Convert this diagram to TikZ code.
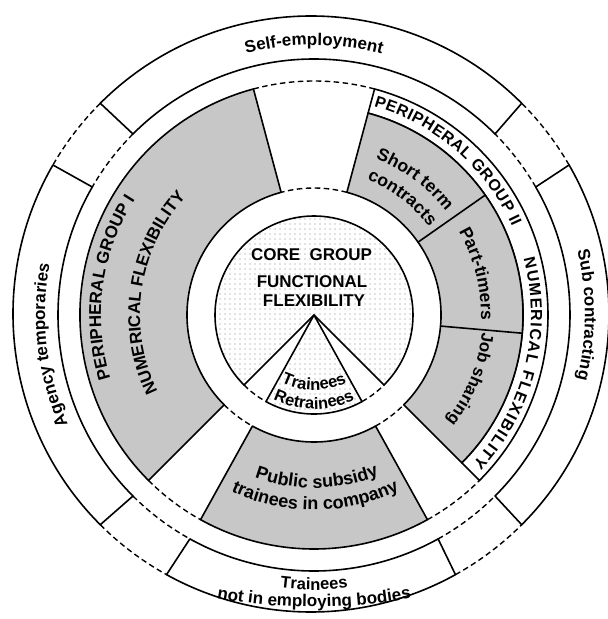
\documentclass[tikz,border=0pt]{standalone}
\usepackage{fontspec}
\setmainfont{Liberation Sans}
\usetikzlibrary{decorations.text,patterns.meta}
\definecolor{pgray}{RGB}{199,199,199}
\definecolor{dotc}{RGB}{130,130,130}
\newcommand{\fo}{\fontsize{17pt}{17pt}\selectfont\bfseries}
\newcommand{\fb}{\fontsize{16pt}{16pt}\selectfont\bfseries}
\newcommand{\fc}{\fontsize{17.5pt}{17.5pt}\selectfont\bfseries}
\newcommand{\fd}{\fontsize{18pt}{18pt}\selectfont\bfseries}
\newcommand{\fe}{\fontsize{16.5pt}{16.5pt}\selectfont\bfseries}
\newcommand{\ringsec}[5]{\path[#1] (#2:#4pt) arc[start angle=#2,end angle=#3,radius=#4pt] -- (#3:#5pt) arc[start angle=#3,end angle=#2,radius=#5pt] -- cycle;}
\newcommand{\cwtext}[4]{\path[decorate,decoration={text along path,text align=center,text={#4}}] ({#1+#3}:#2pt) arc[start angle={#1+#3},end angle={#1-#3},radius=#2pt];}
\newcommand{\ccwtext}[4]{\path[decorate,decoration={text along path,text align=center,text={#4}}] ({#1-#3}:#2pt) arc[start angle={#1-#3},end angle={#1+#3},radius=#2pt];}
\newcommand{\fittext}[4]{\path[decorate,decoration={text along path,text align={fit to path},text={#4}}] (#1:#3pt) arc[start angle=#1,end angle=#2,radius=#3pt];}
\begin{document}
\begin{tikzpicture}[
  sline/.style={draw=black,line width=1.6pt,line join=round,line cap=round},
  dline/.style={draw=black,line width=1.4pt,dash pattern=on 5.5pt off 3.5pt},
  grayreg/.style={fill=pgray,draw=black,line width=1.6pt,line join=round},
  corelabel/.style={font=\fontsize{17pt}{17pt}\selectfont\bfseries,inner sep=0pt}
]
\fill[white] (-314pt,-304pt) rectangle (294pt,315pt);
\useasboundingbox (-314pt,-304pt) rectangle (294pt,315pt);

% ---------- outer ring (outer circle slightly off-centre, as in the print)
\foreach \a/\b in {45/135,150/225,241/299,-45/30}{
  \draw[sline] ([shift={(-3pt,1pt)}]\a:298pt) arc[start angle=\a,end angle=\b,radius=298pt]
        -- (\b:256pt) arc[start angle=\b,end angle=\a,radius=256pt] -- cycle;
}
\foreach \a/\b in {135/150,225/241,299/315,30/45}{
  \draw[dline] ([shift={(-3pt,1pt)}]\a:298pt) arc[start angle=\a,end angle=\b,radius=298pt];
  \draw[dline] (\a:256pt) arc[start angle=\a,end angle=\b,radius=256pt];
}

% ---------- middle zone
\ringsec{grayreg}{105}{225}{234}{127}
\ringsec{grayreg}{241}{299}{234}{127}
\ringsec{sline}{-45}{75}{234}{209}
\ringsec{grayreg}{-45}{75}{209}{127}
\draw[sline] (35:127pt) -- (35:209pt);
\draw[sline] (-5:127pt) -- (-5:209pt);
\foreach \a/\b in {75/105,225/241,299/315}{
  \draw[dline] (\a:234pt) arc[start angle=\a,end angle=\b,radius=234pt];
  \draw[dline] (\a:127pt) arc[start angle=\a,end angle=\b,radius=127pt];
}

% ---------- core
\fill[pattern={Dots[distance=5pt,radius=0.65pt]},pattern color=dotc] (0,0) circle[radius=99pt];
\fill[white] (0,0) -- (225:99pt) arc[start angle=225,end angle=241,radius=99pt] -- cycle;
\fill[white] (0,0) -- (299:99pt) arc[start angle=299,end angle=315,radius=99pt] -- cycle;
\draw[sline] (-45:99pt) arc[start angle=-45,end angle=225,radius=99pt];
\draw[sline] (241:99pt) arc[start angle=241,end angle=299,radius=99pt];
\draw[dline] (225:99pt) arc[start angle=225,end angle=241,radius=99pt];
\draw[dline] (299:99pt) arc[start angle=299,end angle=315,radius=99pt];
\draw[sline] (225:99pt) -- (0,0) -- (315:99pt);
\draw[sline] (241:99pt) -- (0,0) -- (299:99pt);

\node[corelabel] (core) at (-2.5pt,60pt) {CORE\hspace{0.55em}GROUP};
\node[corelabel] (func) at (-2pt,33pt) {FUNCTIONAL};
\node[corelabel] (flex) at (0pt,14pt) {FLEXIBILITY};

% ---------- texts along arcs
% outer ring
\cwtext{90}{270}{40}{|\fo|Self-employment}
\cwtext{186.5}{269}{40}{|\fo|Agency temporaries}
\cwtext{0}{271}{40}{|\fo|Sub contracting}
\ccwtext{270}{275}{30}{|\fe|Trainees}
\begin{scope}[shift={(0pt,255pt)}]
  \path[decorate,decoration={text along path,text align=center,text={|\fo|not in employing bodies}}]
    (256:547pt) arc[start angle=256,end angle=284,radius=547pt];
\end{scope}
% peripheral group I
\cwtext{172.2}{213}{40}{|\fo|PERIPHERAL GROUP I}
\cwtext{171.7}{174}{50}{|\fo|NUMERICAL FLEXIBILITY}
% peripheral group II
\fittext{74}{24}{217}{|\fb|PERIPHERAL GROUP II}
\fittext{15}{-43}{217}{|\fb|NUMERICAL FLEXIBILITY}
\cwtext{53.4}{168}{25}{|\fc|Short term}
\cwtext{53}{145}{25}{|\fc|contracts}
\cwtext{14.1}{167}{25}{|\fc|Part-timers}
\cwtext{-22.2}{169}{25}{|\fo|Job sharing}
% public subsidy
\ccwtext{271}{173}{35}{|\fd|Public subsidy}
\ccwtext{270.4}{195}{35}{|\fd|trainees in company}
% trainees wedge
\ccwtext{270}{75}{45}{|\fe|Trainees}
\ccwtext{270}{94}{45}{|\fe|Retrainees}
\end{tikzpicture}
\end{document}
